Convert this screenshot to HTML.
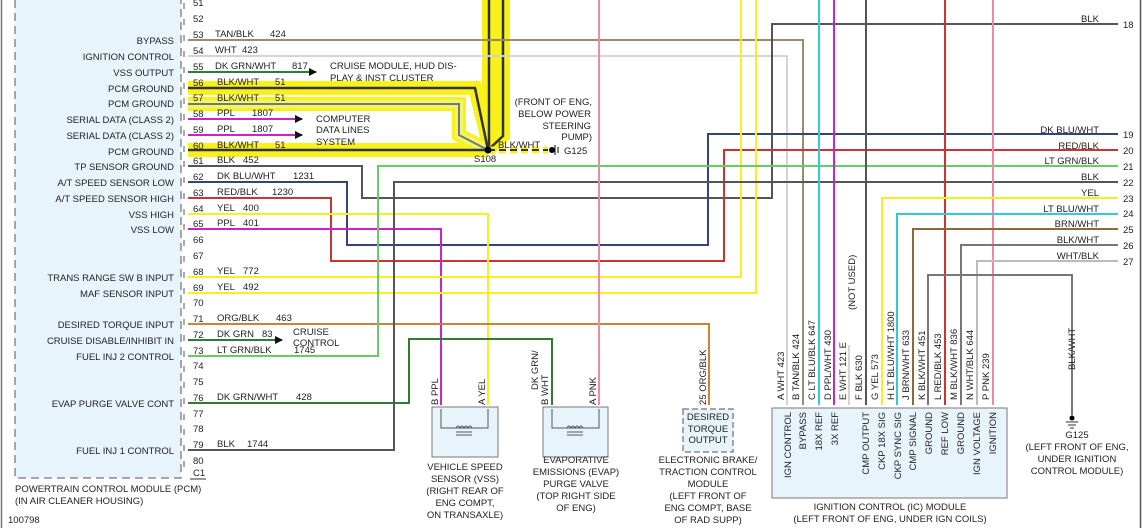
<!DOCTYPE html>
<html><head><meta charset="utf-8"><style>
html,body{margin:0;padding:0;background:#fff;}
svg{display:block;font-family:"Liberation Sans",sans-serif;}
text{font-size:9.5px;fill:#222;}
</style></head><body>
<svg width="1143" height="528" viewBox="0 0 1143 528" xmlns="http://www.w3.org/2000/svg">
<defs>
<marker id="ar" markerWidth="8" markerHeight="8" refX="7" refY="4" orient="auto" markerUnits="userSpaceOnUse"><path d="M0,0 L8,4 L0,8z" fill="#111"/></marker>
</defs>
<!-- borders -->
<line x1="1.5" y1="0" x2="1.5" y2="528" stroke="#777" stroke-width="1.5"/>
<line x1="1140.5" y1="0" x2="1140.5" y2="528" stroke="#555" stroke-width="1.5"/>
<!-- PCM box -->
<rect x="15" y="0" width="166" height="478" fill="#e8f4fc"/>
<path d="M15,0 V478 H181 V0" fill="none" stroke="#555" stroke-width="1" stroke-dasharray="8,5"/>
<text x="15" y="492">POWERTRAIN CONTROL MODULE (PCM)</text>
<text x="15" y="504">(IN AIR CLEANER HOUSING)</text>
<text x="8" y="523">100798</text>
<text x="193" y="476">C1</text>
<line x1="190" y1="479" x2="206" y2="479" stroke="#333"/>

<!-- yellow highlight bundle -->
<g fill="none" stroke="#f8f21a" stroke-width="14" stroke-linejoin="miter">
<path d="M188,88 H475 L488,140 M188,104 H459 V135 L488,150 M188,150 H488 M489,0 V150 M503,0 V136 L488,150"/>
</g>
<g fill="none" stroke="#eef570" stroke-width="8">
<path d="M188,104 H459 V135 L488,150"/>
</g>
<g fill="none" stroke="#333" stroke-width="2.5">
<path d="M188,88 H475 L488,150 M188,150 H488 M489,0 V150 M503,0 V136 L488,150"/>
</g>
<path d="M188,104 H459 V135 L488,150" fill="none" stroke="#777" stroke-width="2"/>
<line x1="488" y1="150" x2="548" y2="150" stroke="#f8f21a" stroke-width="7" stroke-dasharray="7,4"/>
<line x1="488" y1="150" x2="548" y2="150" stroke="#333" stroke-width="2" stroke-dasharray="7,4"/>
<circle cx="488" cy="150" r="3.5" fill="#000"/>
<circle cx="552" cy="150" r="3" fill="#000"/>
<line x1="555" y1="145" x2="555" y2="155" stroke="#000"/>
<line x1="558" y1="147" x2="558" y2="153" stroke="#000"/>
<text x="564" y="154">G125</text>
<text x="498" y="148">BLK/WHT</text>
<text x="474" y="162">S108</text>
<g text-anchor="end"><text x="592" y="105">(FRONT OF ENG,</text><text x="591" y="117">BELOW POWER</text><text x="591" y="129">STEERING</text><text x="592" y="140">PUMP)</text></g>

<!-- wires -->
<g fill="none" stroke-width="2">
<path d="M188,40 H803 V405" stroke="#9a8c70"/>
<path d="M188,56 H787 V405" stroke="#d4d4d4"/>
<path d="M188,72 H316" stroke="#2e7d32" marker-end="url(#ar)"/>
<path d="M188,119 H302" stroke="#cc22cc" marker-end="url(#ar)"/>
<path d="M188,135 H302" stroke="#cc22cc" marker-end="url(#ar)"/>
<path d="M188,166 H362 V198 H772 V24 H1118" stroke="#555"/>
<path d="M188,182 H347 V245 H708 V134 H1118" stroke="#334477"/>
<path d="M188,198 H331 V261 H724 V150 H1118" stroke="#cc3333"/>
<path d="M188,214 H488 V405" stroke="#f5f020"/>
<path d="M188,229 H441 V405" stroke="#cc22cc"/>
<path d="M188,277 H741 V0" stroke="#f5f020"/>
<path d="M188,293 H756 V0" stroke="#f5f020"/>
<path d="M188,324 H709 V405" stroke="#c8853a"/>
<path d="M188,340 H282" stroke="#2e7d32" marker-end="url(#ar)"/>
<path d="M188,356 H378 V166 H1118" stroke="#66cc66"/>
<path d="M188,403 H409 V339 H552 V405" stroke="#2e7d32"/>
<path d="M188,450 H394 V182 H1118" stroke="#555"/>
<path d="M599,0 V405" stroke="#f08aa0"/>
<path d="M819,0 V405" stroke="#33cccc"/>
<path d="M834,0 V405" stroke="#cc22cc"/>
<path d="M866,0 V405" stroke="#555"/>
<path d="M945,0 V405" stroke="#cc3333"/>
<path d="M993,0 V405" stroke="#f08aa0"/>
<path d="M1118,198 H882 V405" stroke="#f5f020"/>
<path d="M1118,214 H897 V405" stroke="#33cccc"/>
<path d="M1118,229 H913 V405" stroke="#8b6a3a"/>
<path d="M1118,245 H961 V405" stroke="#777"/>
<path d="M1118,261 H977 V405" stroke="#bbb"/>
<path d="M928,405 V275 H1072 V415" stroke="#777"/>
<path d="M849,345 V405" stroke="#d4d4d4"/>
</g>

<!-- right labels -->
<g text-anchor="end">
<text x="1099" y="22">BLK</text><text x="1099" y="133">DK BLU/WHT</text><text x="1099" y="149">RED/BLK</text>
<text x="1099" y="164">LT GRN/BLK</text><text x="1099" y="180">BLK</text><text x="1099" y="196">YEL</text>
<text x="1099" y="212">LT BLU/WHT</text><text x="1099" y="227">BRN/WHT</text><text x="1099" y="243">BLK/WHT</text><text x="1099" y="259">WHT/BLK</text>
</g>
<g><text x="1123" y="28">18</text><text x="1123" y="138">19</text><text x="1123" y="154">20</text><text x="1123" y="170">21</text><text x="1123" y="186">22</text><text x="1123" y="202">23</text><text x="1123" y="217">24</text><text x="1123" y="233">25</text><text x="1123" y="249">26</text><text x="1123" y="265">27</text></g>

<!-- left pin rows -->
<g text-anchor="end">
<text x="174" y="44">BYPASS</text><text x="174" y="60">IGNITION CONTROL</text><text x="174" y="76">VSS OUTPUT</text>
<text x="174" y="92">PCM GROUND</text><text x="174" y="107">PCM GROUND</text><text x="174" y="123">SERIAL DATA (CLASS 2)</text>
<text x="174" y="139">SERIAL DATA (CLASS 2)</text><text x="174" y="155">PCM GROUND</text><text x="174" y="170">TP SENSOR GROUND</text>
<text x="174" y="186">A/T SPEED SENSOR LOW</text><text x="174" y="202">A/T SPEED SENSOR HIGH</text><text x="174" y="218">VSS HIGH</text>
<text x="174" y="233">VSS LOW</text><text x="174" y="281">TRANS RANGE SW B INPUT</text><text x="174" y="297">MAF SENSOR INPUT</text>
<text x="174" y="328">DESIRED TORQUE INPUT</text><text x="174" y="344">CRUISE DISABLE/INHIBIT IN</text><text x="174" y="360">FUEL INJ 2 CONTROL</text>
<text x="174" y="407">EVAP PURGE VALVE CONT</text><text x="174" y="454">FUEL INJ 1 CONTROL</text>
</g>
<g font-size="9">
<text x="193" y="6">51</text><text x="193" y="22">52</text><text x="193" y="38">53</text><text x="193" y="54">54</text><text x="193" y="70">55</text>
<text x="193" y="86">56</text><text x="193" y="101">57</text><text x="193" y="117">58</text><text x="193" y="133">59</text><text x="193" y="149">60</text>
<text x="193" y="164">61</text><text x="193" y="180">62</text><text x="193" y="196">63</text><text x="193" y="212">64</text><text x="193" y="227">65</text>
<text x="193" y="243">66</text><text x="193" y="259">67</text><text x="193" y="275">68</text><text x="193" y="291">69</text><text x="193" y="306">70</text>
<text x="193" y="322">71</text><text x="193" y="338">72</text><text x="193" y="354">73</text><text x="193" y="369">74</text><text x="193" y="385">75</text>
<text x="193" y="401">76</text><text x="193" y="417">77</text><text x="193" y="432">78</text><text x="193" y="448">79</text><text x="193" y="464">80</text>
</g>
<g stroke="#555" fill="none" stroke-width="1">
<path d="M184,3 v6 M184,19 v6 M184,35 v6 M184,51 v6 M184,67 v6 M184,83 v6 M184,98 v6 M184,114 v6 M184,130 v6 M184,146 v6 M184,161 v6 M184,177 v6 M184,193 v6 M184,209 v6 M184,224 v6 M184,240 v6 M184,256 v6 M184,272 v6 M184,288 v6 M184,303 v6 M184,319 v6 M184,335 v6 M184,351 v6 M184,366 v6 M184,382 v6 M184,398 v6 M184,414 v6 M184,429 v6 M184,445 v6 M184,461 v6"/>
</g>
<g>
<text x="215" y="37">TAN/BLK</text><text x="270" y="37">424</text>
<text x="215" y="53">WHT</text><text x="242" y="53">423</text>
<text x="215" y="69">DK GRN/WHT</text><text x="292" y="69">817</text>
<text x="217" y="85">BLK/WHT</text><text x="275" y="85">51</text>
<text x="217" y="101">BLK/WHT</text><text x="275" y="101">51</text>
<text x="217" y="116">PPL</text><text x="252" y="116">1807</text>
<text x="217" y="132">PPL</text><text x="252" y="132">1807</text>
<text x="217" y="148">BLK/WHT</text><text x="275" y="148">51</text>
<text x="217" y="163">BLK</text><text x="243" y="163">452</text>
<text x="217" y="179">DK BLU/WHT</text><text x="293" y="179">1231</text>
<text x="217" y="195">RED/BLK</text><text x="272" y="195">1230</text>
<text x="217" y="211">YEL</text><text x="243" y="211">400</text>
<text x="217" y="226">PPL</text><text x="243" y="226">401</text>
<text x="217" y="274">YEL</text><text x="243" y="274">772</text>
<text x="217" y="290">YEL</text><text x="243" y="290">492</text>
<text x="217" y="321">ORG/BLK</text><text x="276" y="321">463</text>
<text x="217" y="337">DK GRN</text><text x="262" y="337">83</text>
<text x="217" y="353">LT GRN/BLK</text><text x="294" y="353">1745</text>
<text x="217" y="400">DK GRN/WHT</text><text x="296" y="400">428</text>
<text x="217" y="447">BLK</text><text x="247" y="447">1744</text>
<text x="330" y="69">CRUISE MODULE, HUD DIS-</text><text x="330" y="81">PLAY &amp; INST CLUSTER</text>
<text x="316" y="122">COMPUTER</text><text x="316" y="133">DATA LINES</text><text x="316" y="145">SYSTEM</text>
<text x="293" y="335">CRUISE</text><text x="293" y="346">CONTROL</text>
</g>

<!-- VSS -->
<rect x="432" y="407" width="66" height="50" fill="#e8f4fc" stroke="#777"/>
<path d="M441,409 V428 H488 V409" fill="none" stroke="#555"/>
<path d="M456,428 q2,-4 4,0 q2,-4 4,0 q2,-4 4,0 q2,-4 4,0 M456,432 h16 M456,435 h16" fill="none" stroke="#555"/>
<!-- EVAP -->
<rect x="543" y="407" width="65" height="50" fill="#e8f4fc" stroke="#777"/>
<path d="M552,409 V428 H599 V409" fill="none" stroke="#555"/>
<path d="M567,428 q2,-4 4,0 q2,-4 4,0 q2,-4 4,0 q2,-4 4,0 M567,432 h16 M567,435 h16" fill="none" stroke="#555"/>
<!-- EBTCM -->
<rect x="683" y="409" width="50" height="43" fill="#e8f4fc" stroke="#888" stroke-dasharray="6,3" stroke-width="1.5"/>
<g text-anchor="middle">
<text x="708" y="420">DESIRED</text><text x="708" y="432">TORQUE</text><text x="708" y="443">OUTPUT</text>
<text x="465" y="470">VEHICLE SPEED</text><text x="465" y="482">SENSOR (VSS)</text><text x="465" y="494">(RIGHT REAR OF</text><text x="465" y="506">ENG COMPT,</text><text x="465" y="518">ON TRANSAXLE)</text>
<text x="576" y="463">EVAPORATIVE</text><text x="576" y="475">EMISSIONS (EVAP)</text><text x="576" y="487">PURGE VALVE</text><text x="576" y="499">(TOP RIGHT SIDE</text><text x="576" y="511">OF ENG)</text>
<text x="708" y="463">ELECTRONIC BRAKE/</text><text x="708" y="475">TRACTION CONTROL</text><text x="708" y="487">MODULE</text><text x="708" y="499">(LEFT FRONT OF</text><text x="708" y="511">ENG COMPT, BASE</text><text x="708" y="523">OF RAD SUPP)</text>
</g>
<!-- rotated connector labels lower middle -->
<g>
<text transform="translate(438,405) rotate(-90)">B  PPL</text>
<text transform="translate(485,405) rotate(-90)">A  YEL</text>
<text transform="translate(538,390) rotate(-90)">DK GRN/</text>
<text transform="translate(548,405) rotate(-90)">B  WHT</text>
<text transform="translate(596,405) rotate(-90)">A  PNK</text>
<text transform="translate(706,405) rotate(-90)">25    ORG/BLK</text>
</g>

<!-- IC module -->
<rect x="772" y="408" width="235" height="90" fill="#e8f4fc" stroke="#777"/>
<g>
<text transform="translate(784,400) rotate(-90)">A   WHT  423</text>
<text transform="translate(799,400) rotate(-90)">B   TAN/BLK    424</text>
<text transform="translate(815,400) rotate(-90)">C   LT BLU/BLK     647</text>
<text transform="translate(831,400) rotate(-90)">D   PPL/WHT    430</text>
<text transform="translate(846,400) rotate(-90)">E   WHT 121      E</text>
<text transform="translate(855,310) rotate(-90)">(NOT USED)</text>
<text transform="translate(862,400) rotate(-90)">F   BLK   630</text>
<text transform="translate(878,400) rotate(-90)">G   YEL   573</text>
<text transform="translate(894,400) rotate(-90)">H   LT BLU/WHT      1800</text>
<text transform="translate(909,400) rotate(-90)">J   BRN/WHT    633</text>
<text transform="translate(925,400) rotate(-90)">K   BLK/WHT    451</text>
<text transform="translate(941,400) rotate(-90)">L   RED/BLK    453</text>
<text transform="translate(957,400) rotate(-90)">M   BLK/WHT    836</text>
<text transform="translate(973,400) rotate(-90)">N   WHT/BLK    644</text>
<text transform="translate(989,400) rotate(-90)">P   PNK   239</text>
<text transform="translate(1075,370) rotate(-90)">BLK/WHT</text>
</g>
<g text-anchor="end">
<text transform="translate(791,412) rotate(-90)">IGN CONTROL</text>
<text transform="translate(806,412) rotate(-90)">BYPASS</text>
<text transform="translate(822,412) rotate(-90)">18X REF</text>
<text transform="translate(838,412) rotate(-90)">3X REF</text>
<text transform="translate(869,412) rotate(-90)">CMP OUTPUT</text>
<text transform="translate(885,412) rotate(-90)">CKP 18X SIG</text>
<text transform="translate(901,412) rotate(-90)">CKP SYNC SIG</text>
<text transform="translate(916,412) rotate(-90)">CMP SIGNAL</text>
<text transform="translate(932,412) rotate(-90)">GROUND</text>
<text transform="translate(948,412) rotate(-90)">REF LOW</text>
<text transform="translate(964,412) rotate(-90)">GROUND</text>
<text transform="translate(980,412) rotate(-90)">IGN VOLTAGE</text>
<text transform="translate(996,412) rotate(-90)">IGNITION</text>
</g>
<g text-anchor="middle">
<text x="890" y="510">IGNITION CONTROL (IC) MODULE</text>
<text x="890" y="522">(LEFT FRONT OF ENG, UNDER IGN COILS)</text>
<text x="1077" y="438">G125</text><text x="1077" y="450">(LEFT FRONT OF ENG,</text><text x="1077" y="462">UNDER IGNITION</text><text x="1077" y="474">CONTROL MODULE)</text>
</g>
<circle cx="1072" cy="418" r="2.5" fill="#000"/>
<path d="M1066,422 h12 M1068,425 h8 M1070,428 h4" stroke="#333"/>
</svg>
</body></html>
